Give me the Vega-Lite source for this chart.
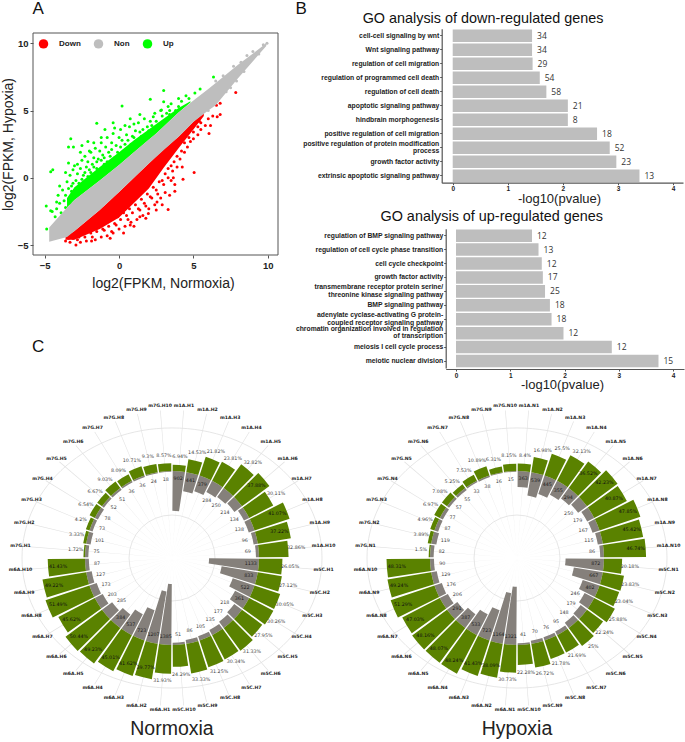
{"$schema":"https://vega.github.io/schema/vega-lite/v6.json","width":685,"height":742,"padding":0,"autosize":{"type":"none"},"background":"white","view":{"stroke":null},"config":{"font":"Liberation Sans","axis":{"grid":false}},
"resolve":{"scale":{"x":"independent","y":"independent","theta":"independent"},"axis":{"x":"independent","y":"independent"}},
"datasets":{"sites":[
{"condition":"Normoxia","i":1,"site":"m1A.H1","count":902,"pct":0.0694},{"condition":"Normoxia","i":2,"site":"m1A.H2","count":441,"pct":0.1453},{"condition":"Normoxia","i":3,"site":"m1A.H3","count":379,"pct":0.2182},{"condition":"Normoxia","i":4,"site":"m1A.H4","count":284,"pct":0.2381},{"condition":"Normoxia","i":5,"site":"m1A.H5","count":250,"pct":0.3282},{"condition":"Normoxia","i":6,"site":"m1A.H6","count":214,"pct":0.3788},{"condition":"Normoxia","i":7,"site":"m1A.H7","count":134,"pct":0.3011},{"condition":"Normoxia","i":8,"site":"m1A.H8","count":138,"pct":0.4107},{"condition":"Normoxia","i":9,"site":"m1A.H9","count":96,"pct":0.3722},{"condition":"Normoxia","i":10,"site":"m1A.H10","count":69,"pct":0.3286},
{"condition":"Normoxia","i":11,"site":"m5C.H1","count":1133,"pct":0.2605},{"condition":"Normoxia","i":12,"site":"m5C.H2","count":833,"pct":0.2712},{"condition":"Normoxia","i":13,"site":"m5C.H3","count":522,"pct":0.3005},{"condition":"Normoxia","i":14,"site":"m5C.H4","count":361,"pct":0.3026},{"condition":"Normoxia","i":15,"site":"m5C.H5","count":218,"pct":0.2795},{"condition":"Normoxia","i":16,"site":"m5C.H6","count":177,"pct":0.3133},{"condition":"Normoxia","i":17,"site":"m5C.H7","count":135,"pct":0.3034},{"condition":"Normoxia","i":18,"site":"m5C.H8","count":105,"pct":0.3125},{"condition":"Normoxia","i":19,"site":"m5C.H9","count":86,"pct":0.3333},{"condition":"Normoxia","i":20,"site":"m5C.H10","count":51,"pct":0.2429},
{"condition":"Normoxia","i":21,"site":"m6A.H1","count":1385,"pct":0.3193},{"condition":"Normoxia","i":22,"site":"m6A.H2","count":1207,"pct":0.3977},{"condition":"Normoxia","i":23,"site":"m6A.H3","count":723,"pct":0.4162},{"condition":"Normoxia","i":24,"site":"m6A.H4","count":537,"pct":0.4501},{"condition":"Normoxia","i":25,"site":"m6A.H5","count":384,"pct":0.4923},{"condition":"Normoxia","i":26,"site":"m6A.H6","count":285,"pct":0.5044},{"condition":"Normoxia","i":27,"site":"m6A.H7","count":203,"pct":0.4562},{"condition":"Normoxia","i":28,"site":"m6A.H8","count":173,"pct":0.5149},{"condition":"Normoxia","i":29,"site":"m6A.H9","count":127,"pct":0.4922},{"condition":"Normoxia","i":30,"site":"m6A.H10","count":87,"pct":0.4143},
{"condition":"Normoxia","i":31,"site":"m7G.H1","count":75,"pct":0.0172},{"condition":"Normoxia","i":32,"site":"m7G.H2","count":101,"pct":0.0333},{"condition":"Normoxia","i":33,"site":"m7G.H3","count":73,"pct":0.042},{"condition":"Normoxia","i":34,"site":"m7G.H4","count":78,"pct":0.0654},{"condition":"Normoxia","i":35,"site":"m7G.H5","count":52,"pct":0.0667},{"condition":"Normoxia","i":36,"site":"m7G.H6","count":51,"pct":0.0903},{"condition":"Normoxia","i":37,"site":"m7G.H7","count":36,"pct":0.0809},{"condition":"Normoxia","i":38,"site":"m7G.H8","count":36,"pct":0.1071},{"condition":"Normoxia","i":39,"site":"m7G.H9","count":24,"pct":0.093},{"condition":"Normoxia","i":40,"site":"m7G.H10","count":18,"pct":0.0857},
{"condition":"Hypoxia","i":1,"site":"m1A.N1","count":363,"pct":0.084},{"condition":"Hypoxia","i":2,"site":"m1A.N2","count":539,"pct":0.1698},{"condition":"Hypoxia","i":3,"site":"m1A.N3","count":445,"pct":0.255},{"condition":"Hypoxia","i":4,"site":"m1A.N4","count":355,"pct":0.3213},{"condition":"Hypoxia","i":5,"site":"m1A.N5","count":294,"pct":0.3652},{"condition":"Hypoxia","i":6,"site":"m1A.N6","count":250,"pct":0.4223},{"condition":"Hypoxia","i":7,"site":"m1A.N7","count":179,"pct":0.4087},{"condition":"Hypoxia","i":8,"site":"m1A.N8","count":167,"pct":0.4785},{"condition":"Hypoxia","i":9,"site":"m1A.N9","count":115,"pct":0.4542},{"condition":"Hypoxia","i":10,"site":"m1A.N10","count":86,"pct":0.4674},
{"condition":"Hypoxia","i":11,"site":"m5C.N1","count":872,"pct":0.2018},{"condition":"Hypoxia","i":12,"site":"m5C.N2","count":667,"pct":0.2383},{"condition":"Hypoxia","i":13,"site":"m5C.N3","count":402,"pct":0.2304},{"condition":"Hypoxia","i":14,"site":"m5C.N4","count":246,"pct":0.2588},{"condition":"Hypoxia","i":15,"site":"m5C.N5","count":179,"pct":0.2224},{"condition":"Hypoxia","i":16,"site":"m5C.N6","count":148,"pct":0.25},{"condition":"Hypoxia","i":17,"site":"m5C.N7","count":95,"pct":0.2169},{"condition":"Hypoxia","i":18,"site":"m5C.N8","count":76,"pct":0.2178},{"condition":"Hypoxia","i":19,"site":"m5C.N9","count":70,"pct":0.2672},{"condition":"Hypoxia","i":20,"site":"m5C.N10","count":41,"pct":0.2228},
{"condition":"Hypoxia","i":21,"site":"m6A.N1","count":1321,"pct":0.3073},{"condition":"Hypoxia","i":22,"site":"m6A.N2","count":1164,"pct":0.3809},{"condition":"Hypoxia","i":23,"site":"m6A.N3","count":723,"pct":0.4143},{"condition":"Hypoxia","i":24,"site":"m6A.N4","count":533,"pct":0.4824},{"condition":"Hypoxia","i":25,"site":"m6A.N5","count":387,"pct":0.4807},{"condition":"Hypoxia","i":26,"site":"m6A.N6","count":291,"pct":0.4816},{"condition":"Hypoxia","i":27,"site":"m6A.N7","count":206,"pct":0.4703},{"condition":"Hypoxia","i":28,"site":"m6A.N8","count":176,"pct":0.5129},{"condition":"Hypoxia","i":29,"site":"m6A.N9","count":129,"pct":0.4924},{"condition":"Hypoxia","i":30,"site":"m6A.N10","count":90,"pct":0.4831},
{"condition":"Hypoxia","i":31,"site":"m7G.N1","count":82,"pct":0.015},{"condition":"Hypoxia","i":32,"site":"m7G.N2","count":119,"pct":0.0389},{"condition":"Hypoxia","i":33,"site":"m7G.N3","count":87,"pct":0.0496},{"condition":"Hypoxia","i":34,"site":"m7G.N4","count":77,"pct":0.0697},{"condition":"Hypoxia","i":35,"site":"m7G.N5","count":57,"pct":0.0708},{"condition":"Hypoxia","i":36,"site":"m7G.N6","count":55,"pct":0.0525},{"condition":"Hypoxia","i":37,"site":"m7G.N7","count":33,"pct":0.0753},{"condition":"Hypoxia","i":38,"site":"m7G.N8","count":38,"pct":0.1089},{"condition":"Hypoxia","i":39,"site":"m7G.N9","count":16,"pct":0.0631},{"condition":"Hypoxia","i":40,"site":"m7G.N10","count":15,"pct":0.0815}
],
"conditions":[{"condition":"Normoxia"},{"condition":"Hypoxia"}],
"points":[
{"normoxia":-4.87,"hypoxia":-3.8,"group":"Up"},{"normoxia":-4.9,"hypoxia":-2.1,"group":"Up"},{"normoxia":-4.6,"hypoxia":-2.45,"group":"Up"},{"normoxia":-4.46,"hypoxia":0.6,"group":"Up"},{"normoxia":-4.6,"hypoxia":0.45,"group":"Up"},{"normoxia":-3.25,"hypoxia":2.9,"group":"Up"},{"normoxia":-3.4,"hypoxia":2.3,"group":"Up"},{"normoxia":-3.07,"hypoxia":2.3,"group":"Up"},{"normoxia":-2.5,"hypoxia":2.4,"group":"Up"},{"normoxia":-2.1,"hypoxia":2.7,"group":"Up"},{"normoxia":-1.5,"hypoxia":4.05,"group":"Up"},{"normoxia":-0.95,"hypoxia":3.6,"group":"Up"},{"normoxia":-0.4,"hypoxia":4.1,"group":"Up"},{"normoxia":-0.3,"hypoxia":3.7,"group":"Up"},{"normoxia":0.2,"hypoxia":5.35,"group":"Up"},{"normoxia":0.75,"hypoxia":4.4,"group":"Up"},{"normoxia":1.4,"hypoxia":4.7,"group":"Up"},{"normoxia":2.1,"hypoxia":5.85,"group":"Up"},{"normoxia":3.0,"hypoxia":6.5,"group":"Up"},{"normoxia":2.3,"hypoxia":4.55,"group":"Up"},{"normoxia":3.3,"hypoxia":5.3,"group":"Up"},{"normoxia":4,"hypoxia":5.9,"group":"Up"},{"normoxia":5.1,"hypoxia":6.3,"group":"Up"},{"normoxia":5.45,"hypoxia":6.6,"group":"Up"},{"normoxia":6.35,"hypoxia":7.5,"group":"Up"},{"normoxia":3.4,"hypoxia":4.7,"group":"Up"},{"normoxia":3,"hypoxia":5.65,"group":"Up"},{"normoxia":2.85,"hypoxia":5.05,"group":"Up"},
{"normoxia":-4.5,"hypoxia":-2.5,"group":"Up"},{"normoxia":-4.3,"hypoxia":-2.9,"group":"Up"},{"normoxia":-4.2,"hypoxia":-2.3,"group":"Up"},{"normoxia":-4,"hypoxia":-1.9,"group":"Up"},{"normoxia":-3.9,"hypoxia":-2.6,"group":"Up"},{"normoxia":-3.7,"hypoxia":-1.7,"group":"Up"},{"normoxia":-3.8,"hypoxia":-0.9,"group":"Up"},{"normoxia":-3.6,"hypoxia":-1.3,"group":"Up"},{"normoxia":-3.5,"hypoxia":-0.3,"group":"Up"},{"normoxia":-3.4,"hypoxia":-0.8,"group":"Up"},{"normoxia":-3.3,"hypoxia":0.2,"group":"Up"},{"normoxia":-3.2,"hypoxia":-1.0,"group":"Up"},{"normoxia":-3.1,"hypoxia":-0.4,"group":"Up"},{"normoxia":-3.1,"hypoxia":0.6,"group":"Up"},{"normoxia":-3,"hypoxia":0.9,"group":"Up"},{"normoxia":-2.9,"hypoxia":-0.2,"group":"Up"},{"normoxia":-2.8,"hypoxia":0.3,"group":"Up"},{"normoxia":-2.8,"hypoxia":1.0,"group":"Up"},{"normoxia":-2.6,"hypoxia":0.7,"group":"Up"},{"normoxia":-2.5,"hypoxia":1.3,"group":"Up"},{"normoxia":-2.4,"hypoxia":0.2,"group":"Up"},{"normoxia":-2.3,"hypoxia":1.6,"group":"Up"},{"normoxia":-2.2,"hypoxia":0.8,"group":"Up"},{"normoxia":-2.1,"hypoxia":1.2,"group":"Up"},{"normoxia":-1.9,"hypoxia":1.9,"group":"Up"},{"normoxia":-1.8,"hypoxia":1.0,"group":"Up"},{"normoxia":-1.7,"hypoxia":1.5,"group":"Up"},{"normoxia":-1.6,"hypoxia":2.2,"group":"Up"},{"normoxia":-1.4,"hypoxia":1.4,"group":"Up"},{"normoxia":-1.3,"hypoxia":2.0,"group":"Up"},{"normoxia":-1.2,"hypoxia":2.6,"group":"Up"},{"normoxia":-1.1,"hypoxia":1.7,"group":"Up"},{"normoxia":-0.9,"hypoxia":2.3,"group":"Up"},{"normoxia":-0.8,"hypoxia":3.0,"group":"Up"},{"normoxia":-0.5,"hypoxia":2.6,"group":"Up"},{"normoxia":-0.4,"hypoxia":3.3,"group":"Up"},{"normoxia":0,"hypoxia":3.0,"group":"Up"},{"normoxia":0.1,"hypoxia":3.6,"group":"Up"},{"normoxia":0.5,"hypoxia":3.2,"group":"Up"},{"normoxia":0.7,"hypoxia":3.8,"group":"Up"},{"normoxia":1.1,"hypoxia":3.5,"group":"Up"},{"normoxia":1.3,"hypoxia":4.1,"group":"Up"},{"normoxia":1.7,"hypoxia":4.4,"group":"Up"},{"normoxia":2.1,"hypoxia":4.2,"group":"Up"},{"normoxia":2.4,"hypoxia":4.8,"group":"Up"},{"normoxia":2.8,"hypoxia":5.0,"group":"Up"},{"normoxia":3.2,"hypoxia":4.8,"group":"Up"},{"normoxia":3.5,"hypoxia":5.5,"group":"Up"},{"normoxia":4.2,"hypoxia":5.7,"group":"Up"},{"normoxia":4.5,"hypoxia":6.1,"group":"Up"},
{"normoxia":-3.6,"hypoxia":-2.2,"group":"Up"},{"normoxia":-3.4,"hypoxia":-1.6,"group":"Up"},{"normoxia":-3.3,"hypoxia":-1.9,"group":"Up"},{"normoxia":-3.2,"hypoxia":-0.6,"group":"Up"},{"normoxia":-3,"hypoxia":-1.2,"group":"Up"},{"normoxia":-2.9,"hypoxia":-0.8,"group":"Up"},{"normoxia":-2.7,"hypoxia":-0.9,"group":"Up"},{"normoxia":-2.7,"hypoxia":-0.4,"group":"Up"},{"normoxia":-2.5,"hypoxia":-0.6,"group":"Up"},{"normoxia":-2.5,"hypoxia":-0.1,"group":"Up"},{"normoxia":-2.3,"hypoxia":-0.3,"group":"Up"},{"normoxia":-2.3,"hypoxia":0.4,"group":"Up"},{"normoxia":-2.1,"hypoxia":0.1,"group":"Up"},{"normoxia":-2,"hypoxia":0.6,"group":"Up"},{"normoxia":-1.9,"hypoxia":0.4,"group":"Up"},{"normoxia":-1.8,"hypoxia":0.0,"group":"Up"},{"normoxia":-1.7,"hypoxia":0.8,"group":"Up"},{"normoxia":-1.5,"hypoxia":0.7,"group":"Up"},{"normoxia":-1.5,"hypoxia":1.2,"group":"Up"},{"normoxia":-1.3,"hypoxia":0.6,"group":"Up"},{"normoxia":-1.2,"hypoxia":1.3,"group":"Up"},{"normoxia":-1.0,"hypoxia":1.0,"group":"Up"},{"normoxia":-1,"hypoxia":1.5,"group":"Up"},{"normoxia":-0.8,"hypoxia":1.2,"group":"Up"},{"normoxia":-0.7,"hypoxia":1.9,"group":"Up"},{"normoxia":-0.6,"hypoxia":1.6,"group":"Up"},{"normoxia":-0.5,"hypoxia":2.1,"group":"Up"},{"normoxia":-0.3,"hypoxia":1.5,"group":"Up"},{"normoxia":-0.2,"hypoxia":2.4,"group":"Up"},{"normoxia":-0.1,"hypoxia":1.9,"group":"Up"},{"normoxia":0.1,"hypoxia":2.3,"group":"Up"},{"normoxia":0.2,"hypoxia":2.8,"group":"Up"},{"normoxia":0.3,"hypoxia":2.0,"group":"Up"},{"normoxia":0.4,"hypoxia":2.5,"group":"Up"},{"normoxia":0.6,"hypoxia":2.8,"group":"Up"},{"normoxia":0.8,"hypoxia":2.5,"group":"Up"},{"normoxia":0.9,"hypoxia":3.1,"group":"Up"},{"normoxia":1,"hypoxia":3.0,"group":"Up"},{"normoxia":1.2,"hypoxia":2.8,"group":"Up"},{"normoxia":1.4,"hypoxia":3.4,"group":"Up"},{"normoxia":1.5,"hypoxia":3.1,"group":"Up"},{"normoxia":1.6,"hypoxia":3.6,"group":"Up"},{"normoxia":1.8,"hypoxia":3.2,"group":"Up"},{"normoxia":1.9,"hypoxia":3.8,"group":"Up"},{"normoxia":2,"hypoxia":3.5,"group":"Up"},{"normoxia":2.2,"hypoxia":3.9,"group":"Up"},{"normoxia":2.5,"hypoxia":4.2,"group":"Up"},{"normoxia":2.7,"hypoxia":4.0,"group":"Up"},{"normoxia":2.9,"hypoxia":4.6,"group":"Up"},{"normoxia":3.4,"hypoxia":5,"group":"Up"},{"normoxia":3.8,"hypoxia":5.0,"group":"Up"},{"normoxia":4,"hypoxia":5.3,"group":"Up"},{"normoxia":4.7,"hypoxia":5.9,"group":"Up"},{"normoxia":1.0,"hypoxia":4.0,"group":"Up"},{"normoxia":0.4,"hypoxia":3.9,"group":"Up"},{"normoxia":-1.2,"hypoxia":3.0,"group":"Up"},{"normoxia":-2.6,"hypoxia":1.9,"group":"Up"},{"normoxia":-3.6,"hypoxia":0.4,"group":"Up"},{"normoxia":-4,"hypoxia":-0.6,"group":"Up"},{"normoxia":-4.1,"hypoxia":-1.3,"group":"Up"},{"normoxia":-4.2,"hypoxia":-1.8,"group":"Up"},{"normoxia":-3.4,"hypoxia":1.1,"group":"Up"},{"normoxia":-2,"hypoxia":2.0,"group":"Up"},{"normoxia":-1.7,"hypoxia":2.6,"group":"Up"},
{"normoxia":7.85,"hypoxia":6.35,"group":"Down"},{"normoxia":6.8,"hypoxia":5.55,"group":"Down"},{"normoxia":6.55,"hypoxia":5.4,"group":"Down"},{"normoxia":6.8,"hypoxia":4.7,"group":"Down"},{"normoxia":6.6,"hypoxia":4.55,"group":"Down"},{"normoxia":6.15,"hypoxia":3.9,"group":"Down"},{"normoxia":6.05,"hypoxia":3.3,"group":"Down"},{"normoxia":5.4,"hypoxia":4.2,"group":"Down"},{"normoxia":5.05,"hypoxia":0.4,"group":"Down"},{"normoxia":4.25,"hypoxia":0.8,"group":"Down"},{"normoxia":3.65,"hypoxia":0,"group":"Down"},{"normoxia":3.75,"hypoxia":-1,"group":"Down"},{"normoxia":3.75,"hypoxia":-0.5,"group":"Down"},{"normoxia":3.3,"hypoxia":-2.35,"group":"Down"},{"normoxia":2.55,"hypoxia":-1.8,"group":"Down"},{"normoxia":1.97,"hypoxia":-2.65,"group":"Down"},{"normoxia":1.4,"hypoxia":-2.9,"group":"Down"},{"normoxia":0.75,"hypoxia":-3.5,"group":"Down"},{"normoxia":-0.5,"hypoxia":-4,"group":"Down"},{"normoxia":-1.85,"hypoxia":-4.7,"group":"Down"},{"normoxia":-2.9,"hypoxia":-5,"group":"Down"},{"normoxia":-3.6,"hypoxia":-4.7,"group":"Down"},
{"normoxia":-3.3,"hypoxia":-4.8,"group":"Down"},{"normoxia":-2.8,"hypoxia":-4.6,"group":"Down"},{"normoxia":-2.6,"hypoxia":-4.8,"group":"Down"},{"normoxia":-2.2,"hypoxia":-4.7,"group":"Down"},{"normoxia":-1.8,"hypoxia":-4.4,"group":"Down"},{"normoxia":-1.6,"hypoxia":-4.6,"group":"Down"},{"normoxia":-1.2,"hypoxia":-4.4,"group":"Down"},{"normoxia":-1,"hypoxia":-3.9,"group":"Down"},{"normoxia":-0.8,"hypoxia":-4.3,"group":"Down"},{"normoxia":-0.4,"hypoxia":-4.1,"group":"Down"},{"normoxia":-0.2,"hypoxia":-3.5,"group":"Down"},{"normoxia":0,"hypoxia":-3.8,"group":"Down"},{"normoxia":0.4,"hypoxia":-3.6,"group":"Down"},{"normoxia":0.6,"hypoxia":-3.1,"group":"Down"},{"normoxia":0.8,"hypoxia":-3.3,"group":"Down"},{"normoxia":1.2,"hypoxia":-3.1,"group":"Down"},{"normoxia":1.4,"hypoxia":-2.4,"group":"Down"},{"normoxia":1.6,"hypoxia":-2.8,"group":"Down"},{"normoxia":1.8,"hypoxia":-2.1,"group":"Down"},{"normoxia":2,"hypoxia":-2.3,"group":"Down"},{"normoxia":2.2,"hypoxia":-1.5,"group":"Down"},{"normoxia":2.4,"hypoxia":-2.0,"group":"Down"},{"normoxia":2.6,"hypoxia":-1.2,"group":"Down"},{"normoxia":2.8,"hypoxia":-1.5,"group":"Down"},{"normoxia":3,"hypoxia":-0.5,"group":"Down"},{"normoxia":3.1,"hypoxia":-1.1,"group":"Down"},{"normoxia":3.3,"hypoxia":0.0,"group":"Down"},{"normoxia":3.5,"hypoxia":-0.2,"group":"Down"},{"normoxia":3.6,"hypoxia":0.5,"group":"Down"},{"normoxia":3.9,"hypoxia":0.8,"group":"Down"},{"normoxia":4.1,"hypoxia":1.4,"group":"Down"},{"normoxia":4.4,"hypoxia":1.9,"group":"Down"},{"normoxia":4.6,"hypoxia":2.3,"group":"Down"},{"normoxia":4.8,"hypoxia":2.7,"group":"Down"},{"normoxia":5,"hypoxia":2.9,"group":"Down"},{"normoxia":5.3,"hypoxia":3.2,"group":"Down"},{"normoxia":5.5,"hypoxia":3.6,"group":"Down"},{"normoxia":5.8,"hypoxia":3.9,"group":"Down"},{"normoxia":6,"hypoxia":4.4,"group":"Down"},{"normoxia":6.3,"hypoxia":4.6,"group":"Down"},{"normoxia":2.5,"hypoxia":-2.4,"group":"Down"},
{"normoxia":-3.4,"hypoxia":-4.5,"group":"Down"},{"normoxia":-3.1,"hypoxia":-4.5,"group":"Down"},{"normoxia":-2.9,"hypoxia":-4.2,"group":"Down"},{"normoxia":-2.7,"hypoxia":-4.4,"group":"Down"},{"normoxia":-2.5,"hypoxia":-4.1,"group":"Down"},{"normoxia":-2.3,"hypoxia":-4.4,"group":"Down"},{"normoxia":-2.1,"hypoxia":-3.9,"group":"Down"},{"normoxia":-1.9,"hypoxia":-4.1,"group":"Down"},{"normoxia":-1.7,"hypoxia":-3.7,"group":"Down"},{"normoxia":-1.5,"hypoxia":-4.0,"group":"Down"},{"normoxia":-1.3,"hypoxia":-3.5,"group":"Down"},{"normoxia":-1.1,"hypoxia":-3.8,"group":"Down"},{"normoxia":-0.9,"hypoxia":-3.3,"group":"Down"},{"normoxia":-0.7,"hypoxia":-3.6,"group":"Down"},{"normoxia":-0.5,"hypoxia":-3.1,"group":"Down"},{"normoxia":-0.3,"hypoxia":-3.4,"group":"Down"},{"normoxia":-0.1,"hypoxia":-2.9,"group":"Down"},{"normoxia":0.1,"hypoxia":-3.1,"group":"Down"},{"normoxia":0.3,"hypoxia":-2.6,"group":"Down"},{"normoxia":0.5,"hypoxia":-2.8,"group":"Down"},{"normoxia":0.7,"hypoxia":-2.3,"group":"Down"},{"normoxia":0.9,"hypoxia":-2.6,"group":"Down"},{"normoxia":1.1,"hypoxia":-2.0,"group":"Down"},{"normoxia":1.3,"hypoxia":-2.3,"group":"Down"},{"normoxia":1.5,"hypoxia":-1.6,"group":"Down"},{"normoxia":1.7,"hypoxia":-1.9,"group":"Down"},{"normoxia":1.9,"hypoxia":-1.2,"group":"Down"},{"normoxia":2.1,"hypoxia":-1.4,"group":"Down"},{"normoxia":2.3,"hypoxia":-0.7,"group":"Down"},{"normoxia":2.5,"hypoxia":-0.9,"group":"Down"},{"normoxia":2.7,"hypoxia":-0.3,"group":"Down"},{"normoxia":2.9,"hypoxia":-0.2,"group":"Down"},{"normoxia":3.1,"hypoxia":0.3,"group":"Down"},{"normoxia":3.3,"hypoxia":0.7,"group":"Down"},{"normoxia":3.5,"hypoxia":0.9,"group":"Down"},{"normoxia":3.7,"hypoxia":1.2,"group":"Down"},{"normoxia":3.9,"hypoxia":1.6,"group":"Down"},{"normoxia":4.2,"hypoxia":2,"group":"Down"},{"normoxia":4.4,"hypoxia":2.6,"group":"Down"},{"normoxia":4.7,"hypoxia":3,"group":"Down"},{"normoxia":5,"hypoxia":3.4,"group":"Down"},{"normoxia":5.3,"hypoxia":3.8,"group":"Down"},{"normoxia":5.5,"hypoxia":4.1,"group":"Down"},{"normoxia":-0.6,"hypoxia":-4.5,"group":"Down"},{"normoxia":0.3,"hypoxia":-4.1,"group":"Down"},{"normoxia":1.0,"hypoxia":-3.6,"group":"Down"},{"normoxia":1.8,"hypoxia":-3.0,"group":"Down"},{"normoxia":2.9,"hypoxia":-2.0,"group":"Down"},{"normoxia":3.4,"hypoxia":-1.3,"group":"Down"},{"normoxia":4.3,"hypoxia":-0.1,"group":"Down"},
{"normoxia":7.5,"hypoxia":6.7,"group":"Non"},{"normoxia":6.5,"hypoxia":7.2,"group":"Non"},{"normoxia":7,"hypoxia":7.6,"group":"Non"},{"normoxia":7.7,"hypoxia":8.3,"group":"Non"},{"normoxia":8.2,"hypoxia":8.6,"group":"Non"},{"normoxia":8.6,"hypoxia":9.1,"group":"Non"},{"normoxia":9,"hypoxia":9.4,"group":"Non"},{"normoxia":9.4,"hypoxia":9.2,"group":"Non"},{"normoxia":9.7,"hypoxia":9.9,"group":"Non"},{"normoxia":9.95,"hypoxia":10,"group":"Non"},{"normoxia":8.4,"hypoxia":7.9,"group":"Non"},{"normoxia":7.9,"hypoxia":7.2,"group":"Non"},{"normoxia":7.2,"hypoxia":6.4,"group":"Non"},{"normoxia":6,"hypoxia":5.0,"group":"Non"}
]},
"layer":[
{"encoding":{"x":{"field":"normoxia","type":"quantitative","scale":{"domain":[-5.79,10.69],"range":[33,278],"nice":false,"zero":false},"axis":{"orient":"bottom","offset":-487,"domain":false,"values":[-5,0,5,10],"tickSize":3,"tickColor":"#555","labelFontSize":9.5,"labelFontWeight":"bold","labelColor":"#222","title":"log2(FPKM, Normoxia)","titleFontSize":14,"titleFontWeight":"normal","titleColor":"#222","titlePadding":7,"titleX":163}},
"y":{"field":"hypoxia","type":"quantitative","scale":{"domain":[-5.74,10.77],"range":[255,33],"nice":false,"zero":false},"axis":{"orient":"left","offset":-33,"domain":false,"values":[-5,0,5,10],"tickSize":3,"tickColor":"#555","labelFontSize":9.5,"labelFontWeight":"bold","labelColor":"#222","title":"log2(FPKM, Hypoxia)","titleFontSize":14,"titleFontWeight":"normal","titleColor":"#222","titlePadding":2}}},
"layer":[
{"data":{"values":[{"normoxia":-3.5,"hypoxia":-2.2,"upper":-1.5},{"normoxia":-3,"hypoxia":-1.65,"upper":-0.7},{"normoxia":-1.3,"hypoxia":-0.2,"upper":0.8},{"normoxia":0,"hypoxia":0.95,"upper":1.9},{"normoxia":1,"hypoxia":1.9,"upper":2.8},{"normoxia":2.5,"hypoxia":3.3,"upper":4.0},{"normoxia":4,"hypoxia":4.85,"upper":5.2},{"normoxia":4.8,"hypoxia":5.6,"upper":5.7}]},"mark":{"type":"area","orient":"vertical","fill":"#00ff00"},"encoding":{"y2":{"field":"upper"}}},
{"data":{"values":[{"normoxia":-3.6,"hypoxia":-4.6,"upper":-4.4},{"normoxia":-3,"hypoxia":-4.6,"upper":-3.95},{"normoxia":-1.3,"hypoxia":-3.8,"upper":-2.4},{"normoxia":0,"hypoxia":-2.95,"upper":-1.05},{"normoxia":2,"hypoxia":-0.8,"upper":1.07},{"normoxia":3,"hypoxia":0.75,"upper":2.1},{"normoxia":4,"hypoxia":2.2,"upper":3.05},{"normoxia":5,"hypoxia":3.6,"upper":4.17},{"normoxia":5.7,"hypoxia":4.6,"upper":4.8}]},"mark":{"type":"area","orient":"vertical","fill":"#ff0000"},"encoding":{"y2":{"field":"upper"}}},
{"data":{"name":"points"},"mark":{"type":"circle","size":9,"opacity":1},"encoding":{"color":{"field":"group","type":"nominal","scale":{"domain":["Down","Non","Up"],"range":["#ff0000","#bebebe","#00ff00"]},"legend":{"orient":"none","legendX":38,"legendY":38,"direction":"horizontal","title":null,"symbolSize":90,"symbolType":"circle","labelFontSize":8,"labelFontWeight":"bold","labelColor":"#222","columns":3,"columnPadding":12,"labelOffset":10}}}},
{"data":{"values":[{"normoxia":-4.7,"hypoxia":-4.75,"upper":-3.7},{"normoxia":-3.5,"hypoxia":-4.4,"upper":-2.2},{"normoxia":-3,"hypoxia":-3.95,"upper":-1.65},{"normoxia":-1.3,"hypoxia":-2.4,"upper":-0.2},{"normoxia":0,"hypoxia":-1.05,"upper":0.95},{"normoxia":2,"hypoxia":1.07,"upper":2.85},{"normoxia":2.5,"hypoxia":1.57,"upper":3.3},{"normoxia":4,"hypoxia":3.05,"upper":4.85},{"normoxia":4.5,"hypoxia":3.6,"upper":5.3},{"normoxia":5,"hypoxia":4.17,"upper":5.75},{"normoxia":6,"hypoxia":5.0,"upper":6.6},{"normoxia":6.5,"hypoxia":5.4,"upper":7.05},{"normoxia":8,"hypoxia":7.4,"upper":8.4},{"normoxia":9.9,"hypoxia":9.8,"upper":10}]},"mark":{"type":"area","orient":"vertical","fill":"#bebebe"},"encoding":{"y2":{"field":"upper"}}},
{"data":{"values":[{"normoxia":-5.79,"hypoxia":-5.74,"right":10.69,"top":10.77}]},"mark":{"type":"rect","fillOpacity":0,"stroke":"#555","strokeWidth":1},"encoding":{"x2":{"field":"right"},"y2":{"field":"top"}}},
{"data":{"values":[{"normoxia":-5.45,"hypoxia":12.55,"label":"A"},{"normoxia":-5.45,"hypoxia":-12.58,"label":"C"}]},"mark":{"type":"text","fontSize":17,"color":"#111"},"encoding":{"text":{"field":"label"}}}
]},
{"data":{"values":[
{"term":"cell-cell signaling by wnt","logp":1.44,"genes":34},{"term":"Wnt signaling pathway","logp":1.44,"genes":34},{"term":"regulation of cell migration","logp":1.45,"genes":29},{"term":"regulation of programmed cell death","logp":1.58,"genes":54},{"term":"regulation of cell death","logp":1.7,"genes":58},{"term":"apoptotic signaling pathway","logp":2.09,"genes":21},{"term":"hindbrain morphogenesis","logp":2.09,"genes":8},{"term":"positive regulation of cell migration","logp":2.62,"genes":18},{"term":"positive regulation of protein modification|process","logp":2.85,"genes":52},{"term":"growth factor activity","logp":2.97,"genes":23},{"term":"extrinsic apoptotic signaling pathway","logp":3.39,"genes":13}]},
"encoding":{"x":{"field":"logp","type":"quantitative","scale":{"domain":[-0.2,4.18],"range":[441.7,683],"nice":false,"zero":false},"axis":{"orient":"bottom","offset":-559.3,"values":[0,1,2,3,4],"domainColor":"#555","domainWidth":1.2,"tickSize":2,"tickColor":"#555","labelFontSize":6.5,"labelFontWeight":"bold","labelColor":"#222","labelPadding":1,"title":"-log10(pvalue)","titleFontSize":13,"titleFontWeight":"normal","titleColor":"#222","titlePadding":0,"titleX":559}},
"y":{"field":"term","type":"nominal","sort":null,"scale":{"range":[28.7,182.7],"paddingInner":0.1,"paddingOuter":0.05},"axis":{"orient":"left","offset":-441.7,"title":null,"labelExpr":"split(datum.label,'|')","labelLimit":300,"domainColor":"#555","domainWidth":1.2,"tickSize":2,"tickColor":"#555","labelFontSize":6.8,"labelFontWeight":"bold","labelColor":"#222","labelPadding":1,"labelLineHeight":7.3,"labelOffset":{"condition":{"test":"indexof(datum.value,'|')>=0","value":-4},"value":0}}}},
"layer":[
{"mark":{"type":"bar","fill":"#bebebe"}},
{"mark":{"type":"text","align":"left","dx":5,"fontSize":8.5,"color":"#333","font":"Open Sans"},"encoding":{"text":{"field":"genes"}}},
{"data":{"values":[{"logp":0.55,"term":"cell-cell signaling by wnt","label":"GO analysis of down-regulated genes"}]},"mark":{"type":"text","fontSize":14.4,"color":"#111","dy":-16.7},"encoding":{"text":{"field":"label"}}},
{"data":{"values":[{"logp":-2.75,"term":"cell-cell signaling by wnt","label":"B"}]},"mark":{"type":"text","fontSize":17,"color":"#111","dy":-27},"encoding":{"text":{"field":"label"}}}
]},
{"data":{"values":[
{"term":"regulation of BMP signaling pathway","logp":1.4,"genes":12},{"term":"regulation of cell cycle phase transition","logp":1.52,"genes":13},{"term":"cell cycle checkpoint","logp":1.58,"genes":12},{"term":"growth factor activity","logp":1.6,"genes":17},{"term":"transmembrane receptor protein serine/|threonine kinase signaling pathway","logp":1.64,"genes":25},{"term":"BMP signaling pathway","logp":1.73,"genes":18},{"term":"adenylate cyclase-activating G protein-|coupled receptor signaling pathway","logp":1.76,"genes":18},{"term":"chromatin organization involved in regulation|of transcription","logp":1.98,"genes":12},{"term":"meiosis I cell cycle process","logp":2.87,"genes":12},{"term":"meiotic nuclear division","logp":3.73,"genes":15}]},
"encoding":{"x":{"field":"logp","type":"quantitative","scale":{"domain":[-0.19,4.2],"range":[445.7,684],"nice":false,"zero":false},"axis":{"orient":"bottom","offset":-373,"values":[0,1,2,3,4],"domainColor":"#555","domainWidth":1.2,"tickSize":2,"tickColor":"#555","labelFontSize":6.5,"labelFontWeight":"bold","labelColor":"#222","labelPadding":1,"title":"-log10(pvalue)","titleFontSize":13,"titleFontWeight":"normal","titleColor":"#222","titlePadding":0,"titleX":562}},
"y":{"field":"term","type":"nominal","sort":null,"scale":{"range":[228.7,368],"paddingInner":0.1,"paddingOuter":0.05},"axis":{"orient":"left","offset":-445.7,"title":null,"labelExpr":"split(datum.label,'|')","labelLimit":300,"domainColor":"#555","domainWidth":1.2,"tickSize":2,"tickColor":"#555","labelFontSize":6.8,"labelFontWeight":"bold","labelColor":"#222","labelPadding":1,"labelLineHeight":7.3,"labelOffset":{"condition":{"test":"indexof(datum.value,'|')>=0","value":-4},"value":0}}}},
"layer":[
{"mark":{"type":"bar","fill":"#bebebe"}},
{"mark":{"type":"text","align":"left","dx":5,"fontSize":8.5,"color":"#333","font":"Open Sans"},"encoding":{"text":{"field":"genes"}}},
{"data":{"values":[{"logp":0.657,"term":"regulation of BMP signaling pathway","label":"GO analysis of up-regulated genes"}]},"mark":{"type":"text","fontSize":14.4,"color":"#111","dy":-19},"encoding":{"text":{"field":"label"}}}
]},
{"data":{"name":"sites"},"mark":{"type":"arc","radius":148,"radius2":0,"fill":"#e2e2e2"},"encoding":{"x":{"field":"condition","type":"nominal","scale":{"type":"point","domain":["Normoxia","Hypoxia"],"range":[172,517],"padding":0},"axis":null},"y":{"field":"condition","type":"nominal","scale":{"type":"point","domain":["Normoxia","Hypoxia"],"range":[558,558],"padding":0},"axis":null},"theta":{"field":"i","type":"ordinal","scale":{"type":"band","range":[0,6.2832],"paddingInner":0.97,"paddingOuter":0.485}}}},
{"data":{"name":"conditions"},"encoding":{"x":{"field":"condition","type":"nominal","scale":{"type":"point","domain":["Normoxia","Hypoxia"],"range":[172,517],"padding":0},"axis":null},"y":{"field":"condition","type":"nominal","scale":{"type":"point","domain":["Normoxia","Hypoxia"],"range":[558,558],"padding":0},"axis":null}},
"layer":[
{"mark":{"type":"point","filled":false,"size":90000,"shape":"M-1,0C-1,-0.479,-0.552,-0.867,0,-0.867C0.552,-0.867,1,-0.479,1,0C1,0.479,0.552,0.867,0,0.867C-0.552,0.867,-1,0.479,-1,0Z","stroke":"#e0e0e0","strokeWidth":0.8,"opacity":1}},
{"mark":{"type":"point","filled":false,"size":7396,"shape":"circle","stroke":"#e0e0e0","strokeWidth":0.8,"opacity":1}},
{"mark":{"type":"text","radius":171,"theta":3.1416,"fontSize":19.5,"color":"#222"},"encoding":{"text":{"field":"condition"}}}
]},
{"data":{"name":"sites"},"resolve":{"scale":{"radius":"independent"}},"encoding":{"x":{"field":"condition","type":"nominal","scale":{"type":"point","domain":["Normoxia","Hypoxia"],"range":[172,517],"padding":0},"axis":null},"y":{"field":"condition","type":"nominal","scale":{"type":"point","domain":["Normoxia","Hypoxia"],"range":[558,558],"padding":0},"axis":null},"theta":{"field":"i","type":"ordinal","scale":{"type":"band","range":[0,6.2832],"paddingInner":0.1,"paddingOuter":0.05}}},
"layer":[
{"mark":{"type":"arc","fill":"#85807b"},"encoding":{"radius":{"field":"count","type":"quantitative","scale":{"domain":[0,1385],"range":[87,26],"zero":false,"nice":false}},"radius2":{"datum":0}}},
{"mark":{"type":"arc","fill":"#5a8200"},"encoding":{"radius":{"field":"pct","type":"quantitative","scale":{"domain":[0,0.6],"range":[87,141],"zero":false,"nice":false}},"radius2":{"datum":0}}},
{"mark":{"type":"text","fontSize":4.8,"font":"DejaVu Sans","color":"#444"},"encoding":{"radius":{"field":"pct","type":"quantitative","scale":{"domain":[0,0.6],"range":[95,149],"zero":false,"nice":false}},"text":{"condition":{"test":"datum.pct<=0.35","field":"pct","format":".2~%"},"value":""}}},
{"mark":{"type":"text","fontSize":4.8,"font":"DejaVu Sans","color":"#111"},"encoding":{"radius":{"field":"pct","type":"quantitative","scale":{"domain":[0,0.6],"range":[77,131],"zero":false,"nice":false}},"text":{"condition":{"test":"datum.pct>0.35","field":"pct","format":".2~%"},"value":""}}},
{"mark":{"type":"text","fontSize":4.8,"font":"DejaVu Sans","color":"#444"},"encoding":{"radius":{"field":"count","type":"quantitative","scale":{"domain":[0,1385],"range":[79,18],"zero":false,"nice":false}},"text":{"condition":{"test":"datum.count<290","field":"count"},"value":""}}},
{"mark":{"type":"text","fontSize":4.8,"font":"DejaVu Sans","color":"#222","radius":79},"encoding":{"text":{"condition":{"test":"datum.count>=290","field":"count"},"value":""}}},
{"mark":{"type":"text","fontSize":4.6,"font":"DejaVu Sans","fontWeight":"bold","color":"#222","radius":152},"encoding":{"text":{"field":"site"}}}
]}
]}
